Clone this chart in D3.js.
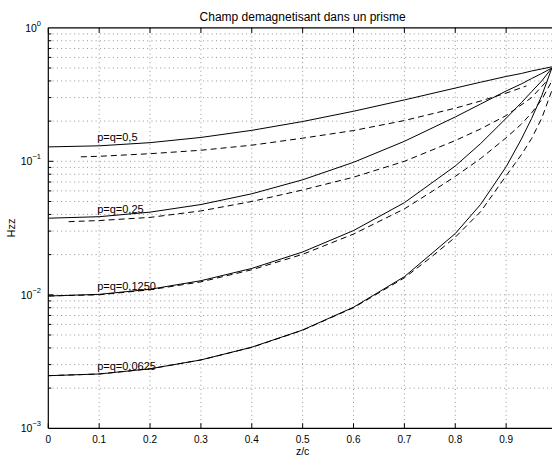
<!DOCTYPE html>
<html><head><meta charset="utf-8">
<script src="https://cdn.jsdelivr.net/npm/d3@7"></script>
<style>
html,body{margin:0;padding:0;background:#fff;overflow:hidden}
text{font-family:"Liberation Sans",Arial,Helvetica,sans-serif;fill:#000}
</style></head>
<body>
<svg id="c" width="552" height="456"></svg>
<script>
// ---- data ----
const zSolid = [0,0.1,0.2,0.3,0.4,0.5,0.6,0.7,0.8,0.85,0.9,0.93,0.95,0.97,0.99];
const solidP050  = [0.1282,0.1306,0.1379,0.1509,0.1706,0.1986,0.2371,0.2883,0.3536,0.3914,0.4320,0.455,0.4748,0.492,0.510];
const solidP025  = [0.03747,0.03846,0.0416,0.04744,0.0571,0.0727,0.09825,0.1412,0.2148,0.2687,0.3362,0.380,0.4166,0.455,0.500];
const solidP0125 = [0.009795,0.01008,0.011,0.01275,0.01576,0.02093,0.03029,0.04898,0.0922,0.1359,0.2101,0.275,0.3321,0.40,0.500];
const solidP0625 = [0.002477,0.002552,0.002792,0.003252,0.00405,0.005449,0.008072,0.01367,0.02874,0.04763,0.0910,0.1467,0.2091,0.31,0.500];

const zDash1 = [0.064,0.1,0.2,0.3,0.4,0.5,0.6,0.7,0.8,0.85,0.9,0.94];
const dashP050 = [0.108,0.109,0.114,0.121,0.132,0.149,0.170,0.202,0.250,0.283,0.324,0.367];
const zDash2 = [0.04,0.1,0.2,0.3,0.4,0.5,0.6,0.7,0.8,0.85,0.9,0.95,0.98];
const dashP025 = [0.0353,0.0360,0.0380,0.0425,0.0500,0.0610,0.0760,0.1000,0.1430,0.1750,0.2200,0.300,0.400];
const zDash34 = [0,0.1,0.2,0.3,0.4,0.5,0.6,0.7,0.75,0.8,0.85,0.9,0.93,0.95,0.97,0.99];
const dashP0125 = [0.0098,0.0100,0.0109,0.0125,0.0154,0.0201,0.0285,0.0440,0.0580,0.0770,0.1050,0.150,0.190,0.230,0.290,0.400];
const dashP0625 = [0.00248,0.00255,0.00279,0.00325,0.00404,0.00543,0.0080,0.0134,0.0188,0.0270,0.0420,0.0780,0.112,0.148,0.210,0.340];

const curveLabels = ["p=q=0,5","p=q=0,25","p=q=0,1250","p=q=0,0625"];
const labelZ = [0.1,0.1,0.1,0.1];
const labelV = [0.143,0.041,0.0108,0.00272];

const xTicks = [0,0.1,0.2,0.3,0.4,0.5,0.6,0.7,0.8,0.9];
const xTickLabels = ["0","0.1","0.2","0.3","0.4","0.5","0.6","0.7","0.8","0.9"];
const yDecades = [-3,-2,-1,0];

const titleText = "Champ demagnetisant dans un prisme";
const xLabel = "z/c";
const yLabel = "Hzz";

// ---- drawing ----
const svg = d3.select("#c");
const L = 48.3, R = 557, T = 27.8, B = 428.3;
const x = d3.scaleLinear().domain([0,1]).range([L,R]);
const y = d3.scaleLog().domain([1e-3,1]).range([B,T]);

// grid
const grid = svg.append("g").attr("stroke","#7a7a7a").attr("stroke-width",0.8).attr("stroke-dasharray","1,3.3");
xTicks.filter(t=>t>0).forEach(t=>{
  grid.append("line").attr("x1",x(t)).attr("x2",x(t)).attr("y1",T).attr("y2",B);
});
const minorVals = [];
yDecades.slice(0,-1).forEach(d=>{ for(let k=1;k<=9;k++){ const v=k*Math.pow(10,d); if(v>1e-3) minorVals.push(v);} });
minorVals.forEach(v=>{
  grid.append("line").attr("x1",L).attr("x2",R).attr("y1",y(v)).attr("y2",y(v));
});

// curves
const line = d3.line().x(d=>x(d[0])).y(d=>y(d[1]));
const solids = [solidP050,solidP025,solidP0125,solidP0625];
solids.forEach(s=>{
  svg.append("path").datum(zSolid.map((z,i)=>[z,s[i]])).attr("d",line)
    .attr("fill","none").attr("stroke","#000").attr("stroke-width",1);
});
const dashes = [[zDash1,dashP050],[zDash2,dashP025],[zDash34,dashP0125],[zDash34,dashP0625]];
dashes.forEach(([zs,s])=>{
  svg.append("path").datum(zs.map((z,i)=>[z,s[i]])).attr("d",line)
    .attr("fill","none").attr("stroke","#000").attr("stroke-width",1).attr("stroke-dasharray","6,4");
});

// axes frame
const ax = svg.append("g").attr("stroke","#000").attr("stroke-width",1.2);
ax.append("line").attr("x1",L).attr("x2",L).attr("y1",T).attr("y2",B);
ax.append("line").attr("x1",L).attr("x2",R).attr("y1",B).attr("y2",B);
ax.append("line").attr("x1",L).attr("x2",R).attr("y1",T).attr("y2",T);

// x ticks (inward, bottom and top)
const tk = svg.append("g").attr("stroke","#000").attr("stroke-width",1);
xTicks.forEach(t=>{
  tk.append("line").attr("x1",x(t)).attr("x2",x(t)).attr("y1",B).attr("y2",B-5);
  tk.append("line").attr("x1",x(t)).attr("x2",x(t)).attr("y1",T).attr("y2",T+5);
});
// y ticks
minorVals.forEach(v=>{
  const major = Math.abs(Math.log10(v)-Math.round(Math.log10(v)))<1e-9;
  tk.append("line").attr("x1",L).attr("x2",L+(major?5:3)).attr("y1",y(v)).attr("y2",y(v));
});

// x tick labels
xTicks.forEach((t,i)=>{
  svg.append("text").attr("x",x(t)).attr("y",B+14.5).attr("text-anchor","middle")
    .attr("font-size",10).text(xTickLabels[i]);
});
// y tick labels
yDecades.forEach(d=>{
  const tx = svg.append("text").attr("x",41).attr("y",y(Math.pow(10,d))+4).attr("text-anchor","end").attr("font-size",10.5);
  tx.append("tspan").text("10");
  tx.append("tspan").attr("dy",-6).attr("font-size",7.5).text(d===0?"0":"\u2212"+(-d));
});

// curve labels
curveLabels.forEach((s,i)=>{
  svg.append("text").attr("x",x(labelZ[i])-2).attr("y",y(labelV[i])).attr("font-size",11).text(s);
});

// titles
svg.append("text").attr("x",(L+R)/2).attr("y",21).attr("text-anchor","middle").attr("font-size",12).text(titleText);
svg.append("text").attr("x",(L+R)/2).attr("y",454.5).attr("text-anchor","middle").attr("font-size",10.5).text(xLabel);
svg.append("text").attr("transform",`translate(15,${(T+B)/2}) rotate(-90)`).attr("text-anchor","middle").attr("font-size",11).text(yLabel);
</script>
</body></html>
